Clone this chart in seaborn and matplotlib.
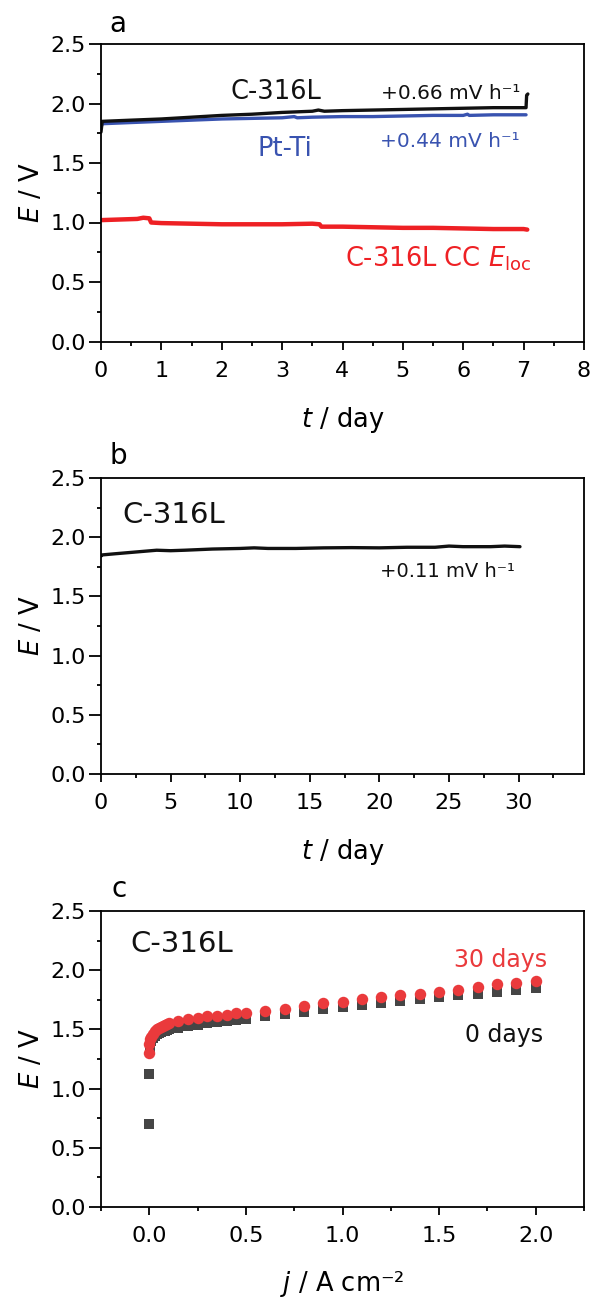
import numpy as np
import pandas as pd
import matplotlib
matplotlib.use("Agg")
import matplotlib.pyplot as plt
import seaborn as sns
from matplotlib.ticker import MultipleLocator, FormatStrFormatter

# ---------------- Panel a data (t / day, E / V) ----------------
a_c316_t = [0.0, 0.02, 0.5, 1.0, 1.5, 2.0, 2.5, 3.0, 3.5, 3.6, 3.7, 4.0, 4.5, 5.0, 5.5, 6.0, 6.5, 7.0, 7.04, 7.05, 7.07]
a_c316_E = [1.76, 1.85, 1.86, 1.87, 1.885, 1.90, 1.91, 1.925, 1.935, 1.945, 1.935, 1.94, 1.945, 1.95, 1.955, 1.96, 1.965, 1.965, 1.965, 2.07, 2.08]

a_ptti_t = [0.0, 0.02, 0.5, 1.0, 1.5, 2.0, 2.5, 3.0, 3.2, 3.25, 3.5, 4.0, 4.5, 5.0, 5.5, 6.0, 6.07, 6.1, 6.5, 7.0, 7.04]
a_ptti_E = [1.80, 1.83, 1.84, 1.85, 1.86, 1.87, 1.875, 1.88, 1.89, 1.88, 1.885, 1.89, 1.89, 1.895, 1.90, 1.90, 1.91, 1.90, 1.905, 1.905, 1.905]

a_cc_t = [0.0, 0.3, 0.6, 0.7, 0.8, 0.83, 1.0, 1.5, 2.0, 2.5, 3.0, 3.5, 3.62, 3.65, 4.0, 4.5, 5.0, 5.5, 6.0, 6.5, 7.0, 7.06]
a_cc_E = [1.02, 1.025, 1.03, 1.04, 1.035, 1.00, 0.995, 0.99, 0.985, 0.985, 0.985, 0.99, 0.985, 0.965, 0.965, 0.96, 0.955, 0.955, 0.95, 0.945, 0.945, 0.94]

# ---------------- Panel b data ----------------
b_t = [0.0, 0.05, 1, 2, 3, 4, 5, 6, 7, 8, 10, 11, 12, 14, 16, 18, 20, 22, 24, 25, 26, 28, 29, 30.1]
b_E = [1.84, 1.85, 1.86, 1.87, 1.88, 1.89, 1.886, 1.89, 1.895, 1.90, 1.905, 1.91, 1.905, 1.905, 1.91, 1.912, 1.91, 1.915, 1.915, 1.925, 1.92, 1.92, 1.925, 1.92]

# ---------------- Panel c data (j / A cm-2, E / V) ----------------
c_j = [0.0, 0.001, 0.005, 0.01, 0.02, 0.03, 0.04, 0.05, 0.06, 0.07, 0.08, 0.09, 0.1,
       0.15, 0.2, 0.25, 0.3, 0.35, 0.4, 0.45, 0.5,
       0.6, 0.7, 0.8, 0.9, 1.0, 1.1, 1.2, 1.3, 1.4, 1.5, 1.6, 1.7, 1.8, 1.9, 2.0]
c_E_30d = [1.30, 1.38, 1.42, 1.44, 1.465, 1.485, 1.50, 1.51, 1.52, 1.53, 1.54, 1.545, 1.555,
           1.575, 1.59, 1.60, 1.61, 1.615, 1.625, 1.635, 1.64,
           1.658, 1.675, 1.70, 1.72, 1.734, 1.755, 1.77, 1.79, 1.80, 1.82, 1.835, 1.86, 1.88, 1.89, 1.91]
c_E_0d = [0.70, 1.12, 1.35, 1.40, 1.43, 1.445, 1.46, 1.47, 1.48, 1.485, 1.49, 1.495, 1.50,
          1.515, 1.53, 1.54, 1.55, 1.56, 1.57, 1.58, 1.59,
          1.61, 1.63, 1.65, 1.67, 1.69, 1.705, 1.72, 1.74, 1.755, 1.776, 1.79, 1.80, 1.815, 1.83, 1.847]

BLACK = "#111111"
BLUE = "#3953b0"
RED = "#ee2024"
RED_PT = "#ea3a3c"
GRAY = "#454545"

sns.set_style("ticks")
plt.rcParams['font.family'] = ['DejaVu Sans']
plt.rcParams['mathtext.fontset'] = 'dejavusans'
for key in ["text.color", "axes.labelcolor", "xtick.color", "ytick.color", "axes.edgecolor"]:
    plt.rcParams[key] = "black"

TICK_FS = 16
LABEL_FS = 18.5

fig = plt.figure(figsize=(5.9, 13), dpi=100)
W, H = 590.0, 1300.0
def box(l, r, t, b):
    return [l / W, 1 - b / H, (r - l) / W, (b - t) / H]

axA = fig.add_axes(box(101, 584, 44, 341.5))
axB = fig.add_axes(box(101, 584, 478, 774))
axC = fig.add_axes(box(101, 584, 911, 1207))

def style(ax):
    for s in ax.spines.values():
        s.set_visible(True)
        s.set_linewidth(1.3)
        s.set_color("black")
    ax.tick_params(which="both", direction="out", width=1.3, top=False, right=False,
                   colors="black", labelcolor="black", labelsize=TICK_FS)
    ax.tick_params(axis="x", which="major", length=6, pad=8)
    ax.tick_params(axis="x", which="minor", length=3.2)
    ax.tick_params(axis="y", which="major", length=9, pad=2)
    ax.tick_params(axis="y", which="minor", length=3.2)
    ax.set_ylim(0, 2.5)
    ax.yaxis.set_major_locator(MultipleLocator(0.5))
    ax.yaxis.set_minor_locator(MultipleLocator(0.25))
    ax.yaxis.set_major_formatter(FormatStrFormatter("%.1f"))
    ax.set_ylabel("$E$ / V", fontsize=LABEL_FS, labelpad=4, color="black")
    ax.grid(False)

# ---------------- Panel a ----------------
dfa1 = pd.DataFrame({"t": a_c316_t, "E": a_c316_E})
dfa2 = pd.DataFrame({"t": a_ptti_t, "E": a_ptti_E})
dfa3 = pd.DataFrame({"t": a_cc_t, "E": a_cc_E})
sns.lineplot(data=dfa3, x="t", y="E", ax=axA, color=RED, lw=3.2, sort=False, estimator=None)
sns.lineplot(data=dfa2, x="t", y="E", ax=axA, color=BLUE, lw=2.4, sort=False, estimator=None)
sns.lineplot(data=dfa1, x="t", y="E", ax=axA, color=BLACK, lw=2.4, sort=False, estimator=None)
style(axA)
axA.set_xlim(0, 8)
axA.xaxis.set_major_locator(MultipleLocator(1))
axA.xaxis.set_minor_locator(MultipleLocator(0.5))
axA.set_xlabel("$t$ / day", fontsize=LABEL_FS, labelpad=17, color="black")
axA.text(2.89, 2.04, "C-316L", color=BLACK, fontsize=18.5, ha="center", va="baseline")
axA.text(4.63, 2.04, "+0.66 mV h\u207b\u00b9", color=BLACK, fontsize=14.5, ha="left", va="baseline")
axA.text(3.04, 1.56, "Pt-Ti", color=BLUE, fontsize=18.5, ha="center", va="baseline")
axA.text(6.94, 1.635, "+0.44 mV h\u207b\u00b9", color=BLUE, fontsize=14.5, ha="right", va="baseline")
axA.text(7.13, 0.63, "C-316L CC $E_{\\mathrm{loc}}$", color=RED, fontsize=18.5, ha="right", va="baseline")
axA.text(0.017, 1.04, "a", transform=axA.transAxes, fontsize=20, ha="left", va="baseline", color="black")

# ---------------- Panel b ----------------
dfb = pd.DataFrame({"t": b_t, "E": b_E})
sns.lineplot(data=dfb, x="t", y="E", ax=axB, color=BLACK, lw=2.4, sort=False, estimator=None)
style(axB)
axB.set_xlim(0, 34.7)
axB.xaxis.set_major_locator(MultipleLocator(5))
axB.xaxis.set_minor_locator(MultipleLocator(2.5))
axB.set_xlabel("$t$ / day", fontsize=LABEL_FS, labelpad=17, color="black")
axB.text(1.5, 2.12, "C-316L", color=BLACK, fontsize=21, ha="left", va="baseline")
axB.text(29.7, 1.665, "+0.11 mV h\u207b\u00b9", color=BLACK, fontsize=14, ha="right", va="baseline")
axB.text(0.017, 1.046, "b", transform=axB.transAxes, fontsize=20, ha="left", va="baseline", color="black")

# ---------------- Panel c ----------------
dfc = pd.DataFrame({"j": c_j * 2, "E": c_E_0d + c_E_30d,
                    "series": ["0 days"] * len(c_j) + ["30 days"] * len(c_j)})
sns.scatterplot(data=dfc[dfc.series == "0 days"], x="j", y="E", ax=axC, marker="s",
                color=GRAY, s=52, linewidth=0, legend=False)
sns.scatterplot(data=dfc[dfc.series == "30 days"], x="j", y="E", ax=axC, marker="o",
                color=RED_PT, s=68, linewidth=0, legend=False)
style(axC)
axC.set_xlim(-0.25, 2.25)
axC.xaxis.set_major_locator(MultipleLocator(0.5))
axC.xaxis.set_minor_locator(MultipleLocator(0.25))
axC.xaxis.set_major_formatter(FormatStrFormatter("%.1f"))
axC.set_xlabel("$j$ / A cm\u207b\u00b2", fontsize=LABEL_FS, labelpad=16.5, color="black")
axC.text(-0.10, 2.155, "C-316L", color=BLACK, fontsize=21, ha="left", va="baseline")
axC.text(2.06, 2.03, "30 days", color=RED_PT, fontsize=17, ha="right", va="baseline")
axC.text(2.04, 1.396, "0 days", color=BLACK, fontsize=17, ha="right", va="baseline")
axC.text(0.021, 1.048, "c", transform=axC.transAxes, fontsize=20, ha="left", va="baseline", color="black")

fig.savefig("out.png", dpi=100)
